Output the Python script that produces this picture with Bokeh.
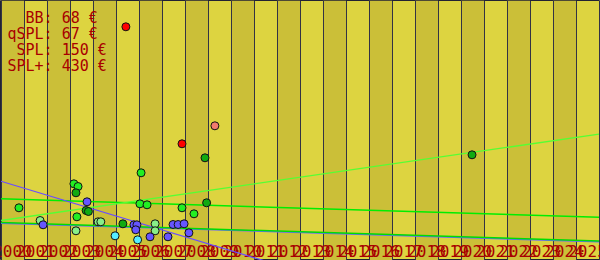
from bokeh.plotting import figure
from bokeh.models import Label, FixedTicker
from bokeh.core.properties import value
from bokeh.embed import file_html
from bokeh.resources import INLINE

# ---- data ----
years = list(range(2000, 2026))          # one grid line / band per year
tick_labels = [str(y) for y in years]

legend_keys = ["BB", "qSPL", "SPL", "SPL+"]
legend_prices = ["68 €", "67 €", "150 €", "430 €"]

red_x = [2005.43, 2007.87]
red_y = [233.7, 116.7]

salmon_x = [2009.30]
salmon_y = [134.7]

dkgreen_x = [2008.87, 2020.48, 2008.94, 2003.26, 2003.70, 2003.80, 2005.30]
dkgreen_y = [102.7, 105.7, 57.7, 67.7, 50.0, 49.0, 36.7]

green_x = [2000.78, 2003.17, 2003.35, 2006.09, 2003.30, 2006.04, 2006.35, 2007.87, 2008.39]
green_y = [52.7, 76.7, 74.0, 87.7, 43.7, 56.7, 55.7, 52.7, 46.7]

ltgreen_x = [2001.70, 2003.26, 2004.22, 2004.34, 2006.70, 2006.70]
ltgreen_y = [40.0, 29.7, 38.7, 38.7, 36.7, 29.7]

cyan_x = [2004.96, 2005.94]
cyan_y = [24.7, 20.7]

blue_x = [2003.74, 2001.83, 2005.78, 2005.91, 2005.86, 2006.48, 2007.26, 2007.48, 2007.70, 2007.96, 2008.17]
blue_y = [58.7, 35.7, 35.7, 35.7, 30.7, 23.7, 23.7, 36.0, 36.0, 36.7, 27.7]

trend_blue_x = [2000, 2012]
trend_blue_y = [79.2, -4.1]

trend_ltgreen_x = [2000, 2026]
trend_ltgreen_y = [40.0, 126.4]

trend_green_hi_x = [2000, 2026]
trend_green_hi_y = [61.7, 43.2]

trend_green_lo_x = [2000, 2026]
trend_green_lo_y = [38.0, 19.5]

trend_blue_lo_x = [2000, 2026]
trend_blue_lo_y = [37.3, 18.8]

# ---- figure ----
W, H = 600, 260
px_per_year = 23.0
x0 = 2000 - 0.5 / px_per_year
p = figure(width=W, height=H, output_backend="svg", toolbar_location=None,
           x_range=(x0, x0 + W / px_per_year), y_range=(0, 260),
           x_axis_location=None, y_axis_location=None, min_border=0)
p.background_fill_color = "#ddd440"
p.border_fill_color = "#ddd440"
p.outline_line_color = "#222233"
p.outline_line_width = 1

p.ygrid.visible = False
p.xgrid.ticker = FixedTicker(ticks=years + [2026])
p.xgrid.grid_line_color = "#333344"
p.xgrid.grid_line_width = 1
p.xgrid.band_fill_color = "#cbbf38"
p.xgrid.band_fill_alpha = 1.0

# x tick labels, drawn inside the plot area
p.text(x=[y + 0.5 for y in years], y=[9.5] * len(years), text=tick_labels,
       text_font=value("DejaVu Sans Mono"), text_font_size=value("16px"),
       text_color="#a80000", text_align="center", text_baseline="alphabetic")

# trend lines
p.line(trend_blue_lo_x, trend_blue_lo_y, line_color="#6666ff", line_width=1.5)
p.line(trend_green_lo_x, trend_green_lo_y, line_color="#00dd00", line_width=1.5)
p.line(trend_green_hi_x, trend_green_hi_y, line_color="#00ee00", line_width=1.5)
p.line(trend_ltgreen_x, trend_ltgreen_y, line_color="#55ff33", line_width=1.3)
p.line(trend_blue_x, trend_blue_y, line_color="#6a4cff", line_width=1.2)

# points
def pts(x, y, c):
    p.scatter(x, y, size=8, fill_color=c, line_color="#111111", line_width=1)

pts(ltgreen_x, ltgreen_y, "#88ee88")
pts(cyan_x, cyan_y, "#55eeff")
pts(blue_x, blue_y, "#6655ff")
pts(green_x, green_y, "#22ee22")
pts(dkgreen_x, dkgreen_y, "#11aa11")
pts(salmon_x, salmon_y, "#f27a6e")
pts(red_x, red_y, "#ff0000")

# legend-like price text, top-left
cw = 9.03
for i, (k, v) in enumerate(zip(legend_keys, legend_prices)):
    txt = f"{k}: {v}"
    pad = 4 - len(k)
    p.add_layout(Label(x=7 + pad * cw, y=H - 17 - 16 * i, x_units="screen", y_units="screen",
                       text=txt, text_font="DejaVu Sans Mono", text_font_size="15px",
                       text_color="#a80000", text_baseline="alphabetic"))

open("out.html", "w").write(file_html(p, INLINE))
